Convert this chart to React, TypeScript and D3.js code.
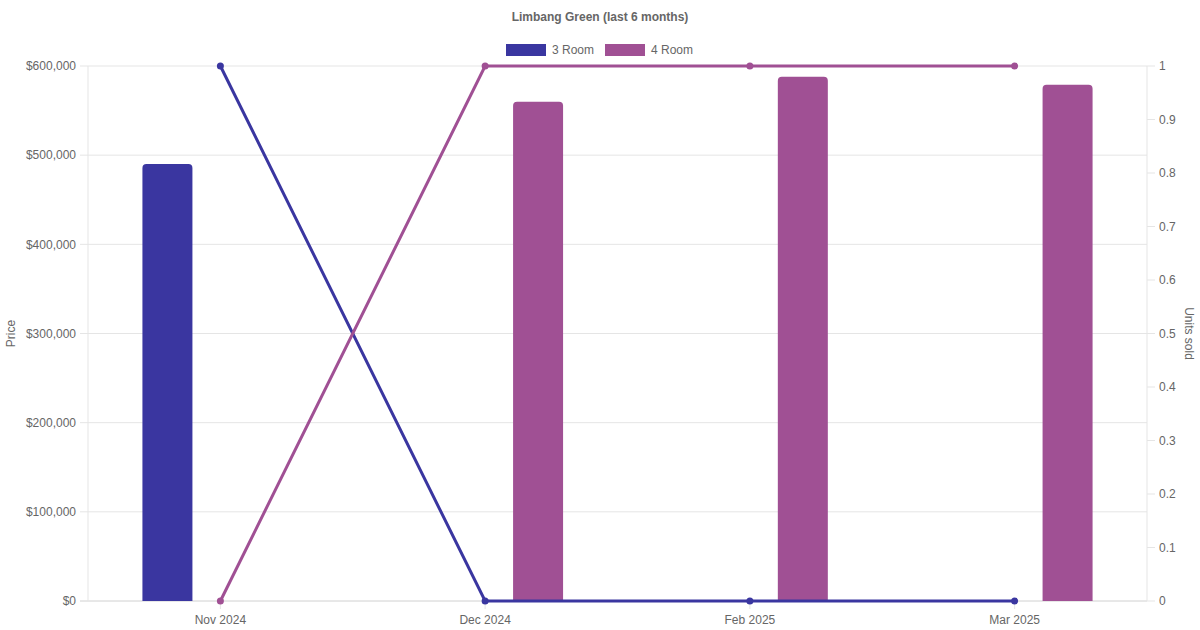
import React from 'react';
import * as d3 from 'd3';

const months = ['Nov 2024', 'Dec 2024', 'Feb 2025', 'Mar 2025'];
const seriesNames = ['3 Room', '4 Room'];
const seriesColors = ['#3a36a0', '#a05094'];
// average price per month (null = no sale)
const price3Room: (number | null)[] = [490000, null, null, null];
const price4Room: (number | null)[] = [null, 560000, 588000, 579000];
// units sold per month
const units3Room = [1, 0, 0, 0];
const units4Room = [0, 1, 1, 1];
const priceTicks = [0, 100000, 200000, 300000, 400000, 500000, 600000];
const unitTicks = [0, 0.1, 0.2, 0.3, 0.4, 0.5, 0.6, 0.7, 0.8, 0.9, 1];

const W = 1200;
const H = 630;
const margin = { top: 66, right: 53, bottom: 29, left: 88 };
const FONT = '"Liberation Sans", Arial, Helvetica, sans-serif';

const App: React.FC = () => {
  const innerW = W - margin.left - margin.right;
  const innerH = H - margin.top - margin.bottom;

  const x = d3.scaleBand().domain(months).range([0, innerW]);
  const xSeries = d3.scaleBand().domain(seriesNames).range([0, x.bandwidth()]).paddingOuter(0.25);
  const yPrice = d3.scaleLinear().domain([0, 600000]).range([innerH, 0]);
  const yUnits = d3.scaleLinear().domain([0, 1]).range([innerH, 0]);
  const barW = 50;
  const fmt = (v: number) => '$' + d3.format(',')(v);

  const prices = [price3Room, price4Room];
  const units = [units3Room, units4Room];

  const line = d3.line<number>()
    .x((_, i) => (x(months[i]) ?? 0) + x.bandwidth() / 2)
    .y(d => yUnits(d));

  const barPath = (x0: number, y0: number, w: number, h: number, r: number) =>
    `M${x0},${y0 + h}V${y0 + r}Q${x0},${y0} ${x0 + r},${y0}H${x0 + w - r}Q${x0 + w},${y0} ${x0 + w},${y0 + r}V${y0 + h}Z`;

  return (
    <svg width={W} height={H} style={{ position: 'absolute', left: 0, top: 0, fontFamily: FONT }}>
      <rect width={W} height={H} fill="#fff" />
      <text x={600} y={21} textAnchor="middle" fontSize={12} fontWeight="bold" fill="#666">
        Limbang Green (last 6 months)
      </text>

      {/* legend */}
      <g>
        <rect x={506} y={44} width={40} height={12} fill={seriesColors[0]} />
        <text x={552} y={54} fontSize={12} fill="#666">3 Room</text>
        <rect x={605} y={44} width={40} height={12} fill={seriesColors[1]} />
        <text x={651} y={54} fontSize={12} fill="#666">4 Room</text>
      </g>

      {/* axis titles */}
      <text transform={`translate(15,${margin.top + innerH / 2}) rotate(-90)`} textAnchor="middle" fontSize={12} fill="#666">Price</text>
      <text transform={`translate(1185,${margin.top + innerH / 2}) rotate(90)`} textAnchor="middle" fontSize={12} fill="#666">Units sold</text>

      <g transform={`translate(${margin.left},${margin.top})`}>
        {/* grid + left ticks */}
        {priceTicks.map(t => (
          <g key={t} transform={`translate(0,${yPrice(t)})`}>
            <line x1={-8} x2={innerW} stroke={t === 0 ? '#d0d0d0' : '#e5e5e5'} strokeWidth={1} />
            <text x={-12} dy="0.35em" textAnchor="end" fontSize={12} fill="#666">{fmt(t)}</text>
          </g>
        ))}
        {/* right ticks */}
        {unitTicks.map(t => (
          <g key={t} transform={`translate(${innerW},${yUnits(t)})`}>
            <line x1={0} x2={8} stroke="#e5e5e5" />
            <text x={12} dy="0.35em" fontSize={12} fill="#666">{d3.format('~g')(t)}</text>
          </g>
        ))}
        <line x1={0} x2={0} y1={0} y2={innerH} stroke="#e5e5e5" />
        <line x1={innerW} x2={innerW} y1={0} y2={innerH} stroke="#e5e5e5" />
        {/* x ticks */}
        {months.map(m => (
          <g key={m} transform={`translate(${(x(m) ?? 0) + x.bandwidth() / 2},${innerH})`}>
            <line y1={0} y2={8} stroke="#e5e5e5" />
            <text y={23} textAnchor="middle" fontSize={12} fill="#666">{m}</text>
          </g>
        ))}

        {/* bars */}
        {prices.map((ser, si) => ser.map((v, i) => {
          if (v == null) return null;
          const cx = (x(months[i]) ?? 0) + (xSeries(seriesNames[si]) ?? 0) + xSeries.bandwidth() / 2;
          const y0 = yPrice(v);
          return <path key={`${si}-${i}`} d={barPath(cx - barW / 2, y0, barW, innerH - y0, 4)} fill={seriesColors[si]} />;
        }))}

        {/* unit lines */}
        {units.map((ser, si) => (
          <g key={si}>
            <path d={line(ser) ?? ''} fill="none" stroke={seriesColors[si]} strokeWidth={3} />
            {ser.map((v, i) => (
              <circle key={i} cx={(x(months[i]) ?? 0) + x.bandwidth() / 2} cy={yUnits(v)} r={3.5} fill={seriesColors[si]} />
            ))}
          </g>
        ))}
      </g>
    </svg>
  );
};

export default App;
